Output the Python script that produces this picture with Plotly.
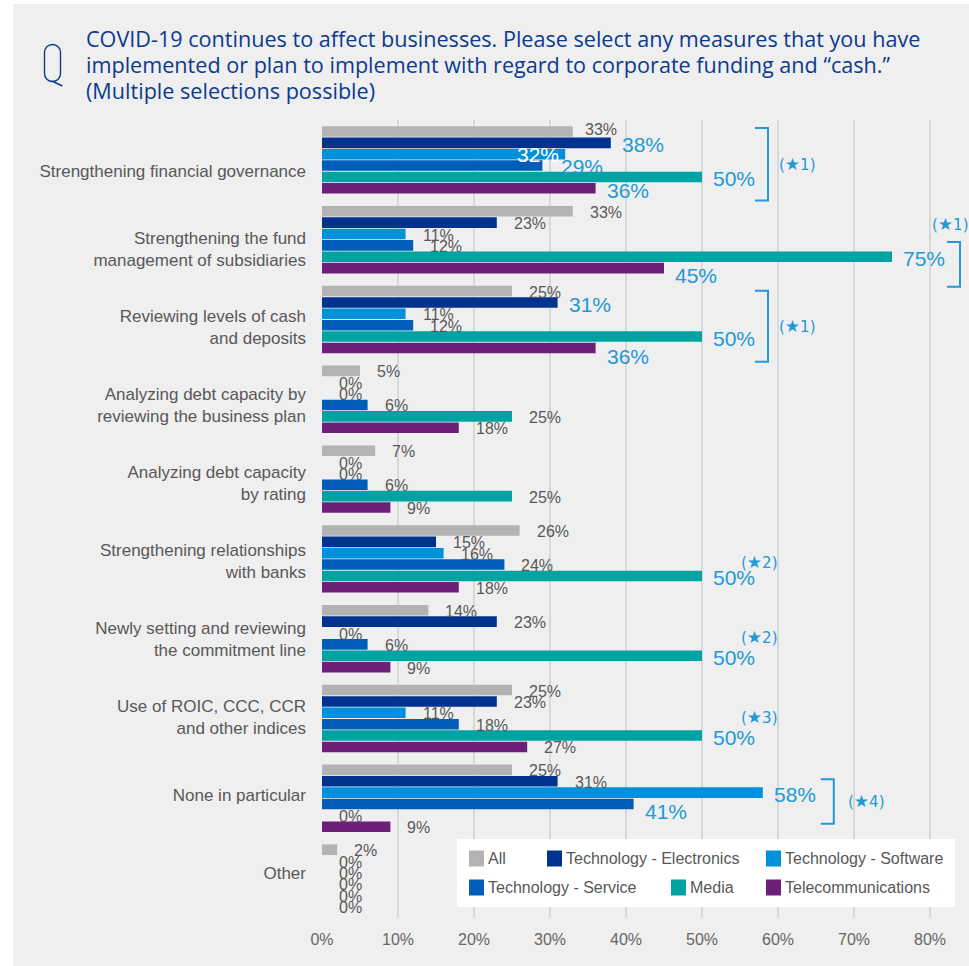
import plotly.graph_objects as go

# ---- data -------------------------------------------------------------
CATEGORIES = [
    "Strengthening financial governance",
    "Strengthening the fund management of subsidiaries",
    "Reviewing levels of cash and deposits",
    "Analyzing debt capacity by reviewing the business plan",
    "Analyzing debt capacity by rating",
    "Strengthening relationships with banks",
    "Newly setting and reviewing the commitment line",
    "Use of ROIC, CCC, CCR and other indices",
    "None in particular",
    "Other",
]
CATEGORY_LABELS = [
    "Strengthening financial governance",
    "Strengthening the fund<br>management of subsidiaries",
    "Reviewing levels of cash<br>and deposits",
    "Analyzing debt capacity by<br>reviewing the business plan",
    "Analyzing debt capacity<br>by rating",
    "Strengthening relationships<br>with banks",
    "Newly setting and reviewing<br>the commitment line",
    "Use of ROIC, CCC, CCR<br>and other indices",
    "None in particular",
    "Other",
]
SERIES = [
    "All",
    "Technology - Electronics",
    "Technology - Software",
    "Technology - Service",
    "Media",
    "Telecommunications",
]
all_firms = [33, 33, 25, 5, 7, 26, 14, 25, 25, 2]
tech_electronics = [38, 23, 31, 0, 0, 15, 23, 23, 31, 0]
tech_software = [32, 11, 11, 0, 0, 16, 0, 11, 58, 0]
tech_service = [29, 12, 12, 6, 6, 24, 6, 18, 41, 0]
media = [50, 75, 50, 25, 25, 50, 50, 50, 0, 0]
telecom = [36, 45, 36, 18, 9, 18, 9, 27, 9, 0]
VALUES = [all_firms, tech_electronics, tech_software, tech_service, media, telecom]

X_TICKS = [0, 10, 20, 30, 40, 50, 60, 70, 80]

TITLE_LINES = [
    "COVID-19 continues to affect businesses. Please select any measures that you have",
    "implemented or plan to implement with regard to corporate funding and “cash.”",
    "(Multiple selections possible)",
]

# ---- styling ----------------------------------------------------------
COLORS = ["#b3b3b3", "#00338d", "#0091da", "#005eb8", "#00a3a1", "#6d2077"]
TITLE_BLUE = "#0c3a8e"
NOTE_BLUE = "#2399d6"
GREY_TEXT = "#585858"
PANEL = "#efefef"
FONT = "Liberation Sans, Arial, DejaVu Sans"

# labels drawn large in blue (category index, series index)
HIGHLIGHT = {(0, 1), (0, 3), (0, 4), (0, 5), (1, 4), (1, 5), (2, 1), (2, 4),
             (2, 5), (5, 4), (6, 4), (7, 4), (8, 2), (8, 3)}
# label drawn in white at the end of its own bar
INSIDE = {(0, 2)}
# small hand nudges for crowded labels: (dx px, dy px, +dy = down)
NUDGE = {(0, 0): (-5, -3), (0, 3): (8, -1), (1, 5): (0, 5), (2, 5): (0, 7),
         (8, 3): (0, 6)}

# star notes: (category, number, px right of group max, vertical offset in groups)
NOTES = [(0, "1", 75, 0.05), (1, "1", 38, -0.20), (2, "1", 75, 0.08),
         (5, "2", 37, 0.04), (6, "2", 37, -0.02), (7, "3", 37, -0.02),
         (8, "4", 83, 0.04)]
# brackets: (category, px right of group max, top, bottom in group units)
BRACKETS = [(0, 66, -0.40, 0.51), (1, 68, 0.03, 0.59), (2, 66, -0.36, 0.53),
            (8, 71, -0.24, 0.32)]

# ---- page geometry ----------------------------------------------------
W, H = 969, 966
ML, MR, MT, MB = 322, 0, 120, 48
PW, PH = W - ML - MR, H - MT - MB
PX_PER_PCT = 7.6
X_MAX = PW / PX_PER_PCT

BARGAP, GROUPGAP = 0.145, 0.07
SLOT = (1 - BARGAP) / len(SERIES)


def px(xp):
    return (xp - ML) / PW


def py(yp):
    return (H - MB - yp) / PH


def bar_center(j, i):
    return j - (1 - BARGAP) / 2 + SLOT * (i + 0.5)


fig = go.Figure()

for i, (name, vals) in enumerate(zip(SERIES, VALUES)):
    fig.add_trace(go.Bar(
        name=name, y=CATEGORIES, x=vals, orientation="h",
        marker=dict(color=COLORS[i], line=dict(width=0)),
        showlegend=False, hoverinfo="x+name",
    ))

# invisible helper trace carrying the category labels on a second y axis
fig.add_trace(go.Scatter(
    x=[0] * len(CATEGORIES), y=list(range(len(CATEGORIES))), yaxis="y2",
    mode="markers", marker=dict(opacity=0), hoverinfo="skip", showlegend=False,
))

annotations = []
shapes = []

# value labels
for i, vals in enumerate(VALUES):
    for j, v in enumerate(vals):
        dx, dy = NUDGE.get((j, i), (0, 0))
        if (j, i) in INSIDE:
            font = dict(family=FONT, size=21, color="white")
            xanchor, xshift, yshift = "right", -4 + dx, -dy
        elif (j, i) in HIGHLIGHT:
            font = dict(family=FONT, size=21, color=NOTE_BLUE)
            xanchor, xshift, yshift = "left", 9 + dx, -2 - dy
        else:
            font = dict(family=FONT, size=16, color=GREY_TEXT)
            xanchor, xshift, yshift = "left", 15 + dx, -1 - dy
        annotations.append(dict(
            x=v, y=bar_center(j, i), xref="x", yref="y", text=f"{v}%",
            showarrow=False, xanchor=xanchor, yanchor="middle",
            xshift=xshift, yshift=yshift, font=font,
        ))

# star notes
for j, num, off, dy in NOTES:
    gmax = max(vals[j] for vals in VALUES)
    annotations.append(dict(
        x=gmax, y=j + dy, xref="x", yref="y",
        text=f"(<span style='font-size:17px'>★</span>{num})", showarrow=False,
        xanchor="left", yanchor="middle", xshift=off,
        font=dict(family="DejaVu Sans, Liberation Sans", size=15, color=NOTE_BLUE),
    ))

# brackets
for j, off, top, bottom in BRACKETS:
    gmax = max(vals[j] for vals in VALUES)
    shapes.append(dict(
        type="path", xref="x", yref="y", xsizemode="pixel", xanchor=gmax,
        path=f"M {off - 13},{j + top} L {off},{j + top} L {off},{j + bottom} "
             f"L {off - 13},{j + bottom}",
        line=dict(color=NOTE_BLUE, width=2), layer="above",
    ))

# background panel
shapes.append(dict(type="rect", xref="paper", yref="paper",
                   x0=px(13), x1=px(W), y0=py(H), y1=py(4),
                   fillcolor=PANEL, line=dict(width=0), layer="below"))


# "Q" question mark glyph beside the title
def q_path():
    L, R, T, B = 44.5, 60.5, 44.5, 81.5
    r = (R - L) / 2
    cx = (L + R) / 2
    k = 0.552 * r
    pts = [
        ("M", [(L, T + r)]),
        ("C", [(L, T + r - k), (cx - k, T), (cx, T)]),
        ("C", [(cx + k, T), (R, T + r - k), (R, T + r)]),
        ("L", [(R, B - r)]),
        ("C", [(R, B - r + k), (cx + k, B), (cx, B)]),
        ("C", [(cx - k, B), (L, B - r + k), (L, B - r)]),
        ("Z", []),
        ("M", [(cx - 0.5, B - 0.5)]),
        ("L", [(R + 1.8, B + 4.5)]),
    ]
    out = []
    for cmd, coords in pts:
        out.append(cmd + " " + " ".join(f"{px(a):.5f},{py(b):.5f}" for a, b in coords))
    return " ".join(out)


shapes.append(dict(type="path", xref="paper", yref="paper", path=q_path(),
                   line=dict(color=TITLE_BLUE, width=1.4)))

# title, one annotation per line for tight line spacing
for k, line in enumerate(TITLE_LINES):
    annotations.append(dict(
        x=px(84), y=py(38.5 + 25.8 * k), xref="paper", yref="paper",
        xanchor="left", yanchor="middle", align="left", showarrow=False,
        text=line,
        font=dict(family="Open Sans, Liberation Sans", size=21.6, color=TITLE_BLUE),
    ))

# legend box drawn on the page
shapes.append(dict(type="rect", xref="paper", yref="paper",
                   x0=px(457), x1=px(955), y0=py(907), y1=py(839),
                   fillcolor="white", line=dict(width=0), layer="above"))
LEGEND_SLOTS = [(469, 858.5), (547, 858.5), (766, 858.5),
                (469, 887.5), (671, 887.5), (766, 887.5)]
for (sx, sy), name, col in zip(LEGEND_SLOTS, SERIES, COLORS):
    shapes.append(dict(type="rect", xref="paper", yref="paper",
                       x0=px(sx), x1=px(sx + 15), y0=py(sy + 8), y1=py(sy - 8),
                       fillcolor=col, line=dict(width=0), layer="above"))
    annotations.append(dict(
        x=px(sx + 17), y=py(sy), xref="paper", yref="paper", text=name,
        showarrow=False, xanchor="left", yanchor="middle",
        font=dict(family=FONT, size=16, color=GREY_TEXT),
    ))

n = len(CATEGORIES)
fig.update_layout(
    width=W, height=H,
    margin=dict(l=ML, r=MR, t=MT, b=MB, pad=0),
    paper_bgcolor="white", plot_bgcolor="rgba(0,0,0,0)",
    barmode="group", bargap=BARGAP, bargroupgap=GROUPGAP,
    font=dict(family=FONT, color=GREY_TEXT),
    xaxis=dict(
        range=[0, X_MAX], tickvals=X_TICKS, ticktext=[f"{t}%" for t in X_TICKS],
        showgrid=True, gridcolor="#d8d8d8", gridwidth=2, zeroline=False,
        showline=False, ticks="", ticklabelstandoff=10,
        tickfont=dict(family=FONT, size=16, color="#666666"), fixedrange=True,
    ),
    yaxis=dict(
        type="category", categoryorder="array", categoryarray=CATEGORIES,
        range=[n - 0.5, -0.5], showticklabels=False, showgrid=False,
        zeroline=False, showline=False, ticks="", fixedrange=True,
    ),
    yaxis2=dict(
        overlaying="y", side="left", range=[(H - MB - 171) / 78, (MT - 171) / 78],
        tickvals=list(range(n)), ticktext=CATEGORY_LABELS, showgrid=False,
        zeroline=False, showline=False, ticks="", ticklabelstandoff=15,
        tickfont=dict(family=FONT, size=17, color=GREY_TEXT), fixedrange=True,
    ),
    annotations=annotations,
    shapes=shapes,
    showlegend=False,
)

fig.write_html("out.html")
